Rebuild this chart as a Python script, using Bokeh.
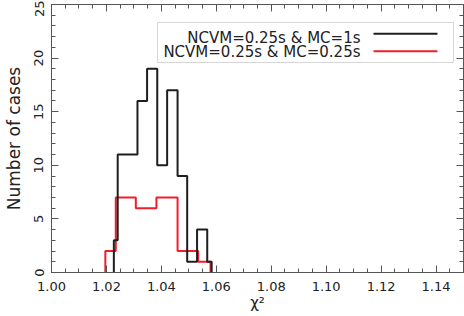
import numpy as np
from bokeh.plotting import figure
from bokeh.models import (Range1d, LinearAxis, FixedTicker, BoxAnnotation, Label,
                          NumeralTickFormatter)
from bokeh.embed import file_html
from bokeh.resources import INLINE

# ---- data ----
# NCVM=0.25s & MC=1s  (black)
black_edges = [1.0227, 1.0241, 1.0313, 1.0348, 1.0385, 1.0421, 1.0459, 1.0494, 1.0530, 1.0567, 1.0583]
black_counts = [3, 11, 16, 19, 10, 17, 9, 1, 4, 1]
# NCVM=0.25s & MC=0.25s (red)
red_edges = [1.0196, 1.0234, 1.0307, 1.0382, 1.0459, 1.0534, 1.0579]
red_counts = [2, 7, 6, 7, 2, 1]

x_major = [1.00, 1.02, 1.04, 1.06, 1.08, 1.10, 1.12, 1.14]
x_minor = [round(1.0 + 0.005 * i, 3) for i in range(31)]
y_major = [0, 5, 10, 15, 20, 25]
y_minor = list(range(26))

black_label = "NCVM=0.25s & MC=1s"
red_label = "NCVM=0.25s & MC=0.25s"
x_title = "χ²"
y_title = "Number of cases"

AX = "#555555"
TXT = "#222222"
BLACK = "#1e1e1e"
RED = "#f21c2c"
FONT = "DejaVu Sans"


def step_xy(edges, counts):
    xs = [edges[0]] + list(edges)
    ys = [0] + list(counts) + [0]
    return xs, ys


p = figure(frame_width=412, frame_height=268, output_backend="svg", toolbar_location=None,
           x_range=Range1d(1.0, 1.15), y_range=Range1d(0, 25),
           min_border_left=51, min_border_right=1, min_border_top=4, min_border_bottom=44,
           x_axis_type=None, y_axis_type=None)
p.background_fill_color = "white"
p.border_fill_color = "white"
p.outline_line_color = AX
p.grid.visible = False


def base_style(ax):
    ax.axis_line_color = AX
    ax.major_tick_line_color = AX
    ax.minor_tick_line_color = AX
    ax.major_tick_in = 7
    ax.major_tick_out = 0
    ax.minor_tick_in = 4
    ax.minor_tick_out = 0
    ax.major_label_text_font = FONT
    ax.major_label_text_color = TXT
    ax.major_label_text_font_size = "13px"
    ax.axis_label_text_font = FONT
    ax.axis_label_text_font_style = "normal"
    ax.axis_label_text_color = TXT


xb = LinearAxis(ticker=FixedTicker(ticks=x_major, minor_ticks=x_minor), axis_label=x_title)
base_style(xb)
xb.formatter = NumeralTickFormatter(format="0.00")
xb.major_label_standoff = 9
xb.axis_label_text_font_size = "15px"
xb.axis_label_standoff = 0
p.add_layout(xb, "below")

yl = LinearAxis(ticker=FixedTicker(ticks=y_major, minor_ticks=y_minor), axis_label=y_title)
base_style(yl)
yl.major_label_orientation = "vertical"
yl.major_label_standoff = 8
yl.axis_label_text_font_size = "17px"
yl.axis_label_standoff = 8
p.add_layout(yl, "left")

# mirrored ticks (no labels) on the top and right: ticks drawn as "minor" ticks only
for side, majors, minors in [("above", x_major, x_minor), ("right", y_major, y_minor)]:
    for pos, ln in [(majors, 7), (minors, 4)]:
        ax = LinearAxis(ticker=FixedTicker(ticks=[], minor_ticks=pos))
        base_style(ax)
        ax.minor_tick_in = ln
        p.add_layout(ax, side)

rx, ry = step_xy(red_edges, red_counts)
p.step(rx, ry, mode="after", line_color=RED, line_width=2)
bx, by = step_xy(black_edges, black_counts)
p.step(bx, by, mode="after", line_color=BLACK, line_width=2)

# legend drawn by hand (sample lines to the right of right-aligned text)
p.add_layout(BoxAnnotation(left=106, right=402, top=250, bottom=210,
                           left_units="screen", right_units="screen",
                           top_units="screen", bottom_units="screen",
                           fill_color="white", fill_alpha=1.0,
                           line_color="#777777", line_width=1))
for lbl, col, yb, yline in [(black_label, BLACK, 234.5, 238.7), (red_label, RED, 220.7, 221.3)]:
    p.add_layout(Label(x=309, y=yb, x_units="screen", y_units="screen", text=lbl,
                       text_align="right", text_baseline="alphabetic",
                       text_font=FONT, text_font_size="15px", text_color=TXT))
    p.add_layout(BoxAnnotation(left=322, right=386, top=yline + 1, bottom=yline - 1,
                               left_units="screen", right_units="screen",
                               top_units="screen", bottom_units="screen",
                               fill_color=col, fill_alpha=1.0, line_alpha=0))

open("out.html", "w").write(file_html(p, INLINE))
